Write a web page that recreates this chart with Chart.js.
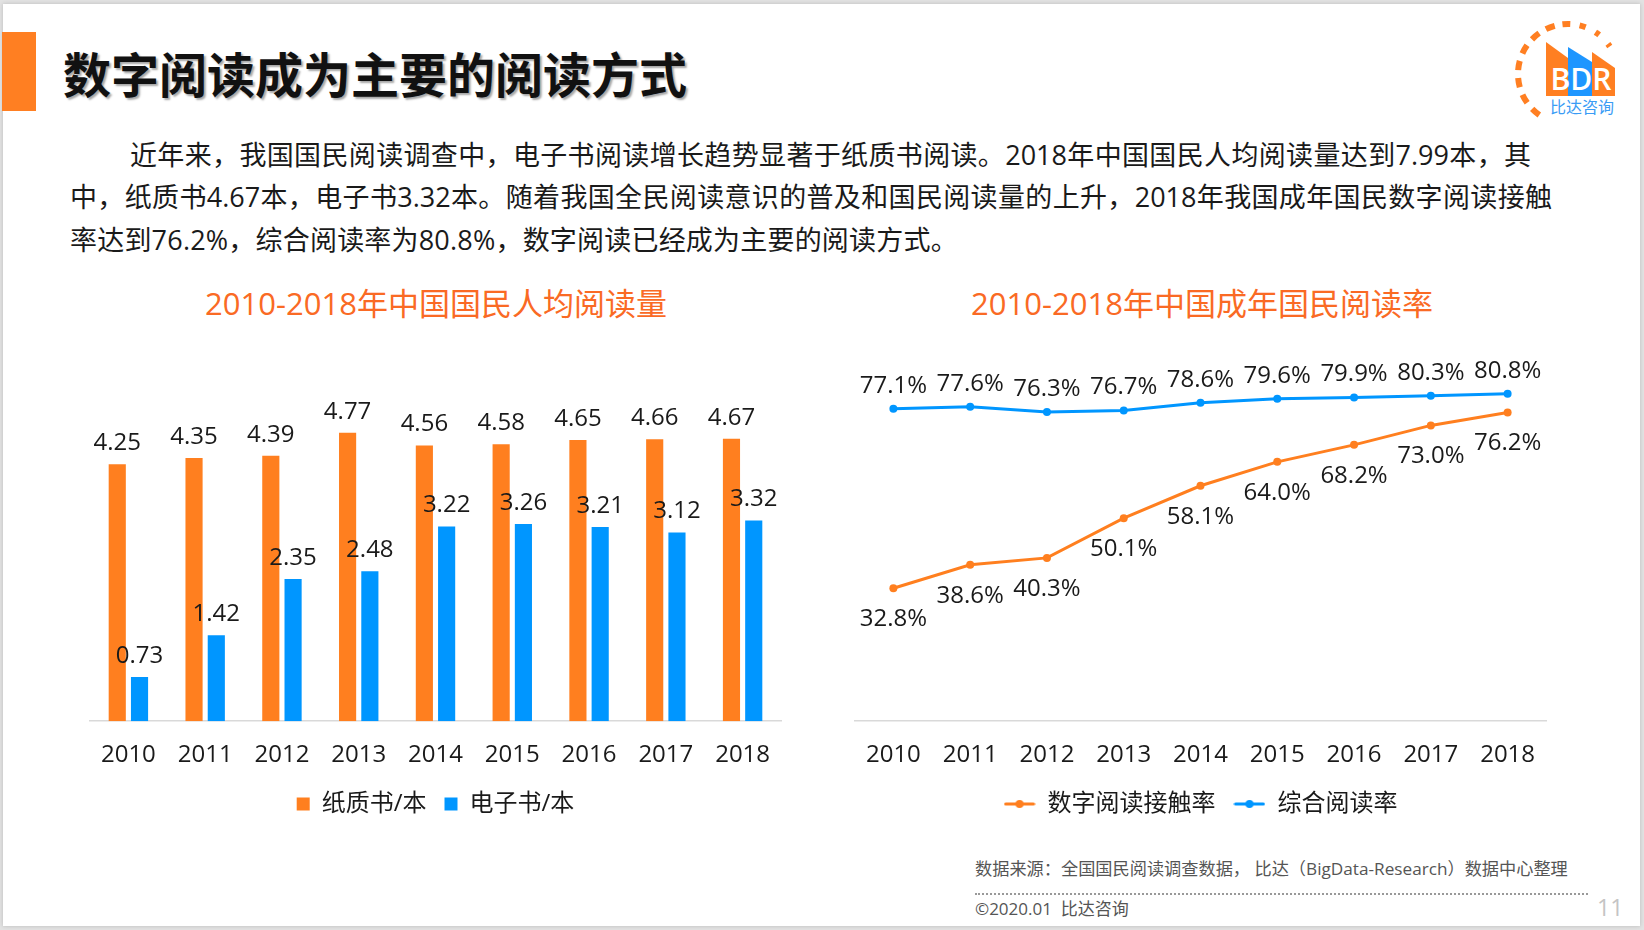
<!DOCTYPE html>
<html><head><meta charset="utf-8">
<script src="https://cdn.jsdelivr.net/npm/chart.js@4.4.0/dist/chart.umd.min.js"></script>
<style>
html,body{margin:0;padding:0;width:1644px;height:930px;overflow:hidden;background:#e2e2e2;font-family:"Open Sans","Noto Sans CJK SC",sans-serif;color:#1a1a1a;}
#slide{position:absolute;left:3px;top:4px;width:1637px;height:922px;background:#fff;box-shadow:0 0 4px rgba(0,0,0,0.18);}
.abs{position:absolute;white-space:nowrap;}
#bar{left:2px;top:32px;width:34px;height:79px;background:#FF7F22;}
#title{left:63px;top:45px;font-size:48px;line-height:60px;font-weight:700;color:#111;text-shadow:2px 2px 2px rgba(0,0,0,0.35);}
.para{font-size:27px;line-height:42px;color:#1a1a1a;}
.just{text-align:justify;text-align-last:justify;}
.ctitle{font-size:31px;line-height:40px;color:#FA6A24;text-align:center;}
#src{left:975px;top:858px;font-size:17.2px;line-height:22px;color:#555;}
#copy{left:975px;top:898px;font-size:17px;line-height:22px;color:#555;}
#dots{left:975px;top:893px;width:613px;height:0;border-top:2px dotted #999;}
#pg{left:1597px;top:893px;font-size:23px;line-height:28px;color:#c4c4c4;}
canvas{position:absolute;}
</style></head>
<body>
<div id="slide"></div>
<div id="bar" class="abs"></div>
<div id="title" class="abs">数字阅读成为主要的阅读方式</div>
<div class="abs para just" style="left:130px;top:134px;width:1401px;">近年来，我国国民阅读调查中，电子书阅读增长趋势显著于纸质书阅读。2018年中国国民人均阅读量达到7.99本，其</div>
<div class="abs para just" style="left:70px;top:176px;width:1482px;">中，纸质书4.67本，电子书3.32本。随着我国全民阅读意识的普及和国民阅读量的上升，2018年我国成年国民数字阅读接触</div>
<div class="abs para" style="left:70px;top:219px;letter-spacing:0.2px;">率达到76.2%，综合阅读率为80.8%，数字阅读已经成为主要的阅读方式。</div>
<div class="abs ctitle" style="left:186px;top:283px;width:500px;">2010-2018年中国国民人均阅读量</div>
<div class="abs ctitle" style="left:952px;top:283px;width:500px;">2010-2018年中国成年国民阅读率</div>

<svg class="abs" style="left:1510px;top:14px;" width="120" height="110" viewBox="0 0 120 110">
  <circle cx="58" cy="60" r="50" fill="none" stroke="#FF7F22" stroke-width="6" pathLength="200" transform="rotate(125 58 60)" stroke-dasharray="6 5 6 5 6 5 6 5 6 5 6 5 6 5 5 6 4 7 3 8 2 100"/>
  <polygon points="36,28 58,44 58,82 36,82" fill="#FF7F22"/>
  <polygon points="58,33 82,48 82,82 58,82" fill="#1E96FF"/>
  <polygon points="82,38 105,54 105,82 82,82" fill="#FF7F22"/>
  <text x="71" y="76" font-family="Open Sans, Liberation Sans, sans-serif" font-weight="600" font-size="30" fill="#fff" text-anchor="middle">BDR</text>
  <text x="72" y="99" font-family="Noto Sans CJK SC" font-size="16" fill="#3A9CF5" text-anchor="middle">比达咨询</text>
</svg>

<div id="src" class="abs">数据来源：全国国民阅读调查数据， 比达（BigData-Research）数据中心整理</div>
<div id="dots" class="abs"></div>
<div id="copy" class="abs">©2020.01&nbsp;&nbsp;比达咨询</div>
<div id="pg" class="abs">11</div>

<canvas id="c1" width="765" height="543" style="left:50px;top:300px;width:765px;height:543px;"></canvas>
<canvas id="c2" width="770" height="543" style="left:815px;top:300px;width:770px;height:543px;"></canvas>

<script>
// ---- data ----
const years = ['2010','2011','2012','2013','2014','2015','2016','2017','2018'];
const paperBooks = [4.25, 4.35, 4.39, 4.77, 4.56, 4.58, 4.65, 4.66, 4.67];
const eBooks = [0.73, 1.42, 2.35, 2.48, 3.22, 3.26, 3.21, 3.12, 3.32];
const digitalRate = [32.8, 38.6, 40.3, 50.1, 58.1, 64.0, 68.2, 73.0, 76.2];
const overallRate = [77.1, 77.6, 76.3, 76.7, 78.6, 79.6, 79.9, 80.3, 80.8];
const barNames = ['纸质书/本', '电子书/本'];
const lineNames = ['数字阅读接触率', '综合阅读率'];

const ORANGE = '#FF7F1F';
const BLUE = '#0096FF';
const FONT = '"Open Sans","Noto Sans CJK SC",sans-serif';

const valueLabels = {
  id: 'valueLabels',
  afterDatasetsDraw(chart) {
    const ctx = chart.ctx;
    chart.data.datasets.forEach((ds, i) => {
      const meta = chart.getDatasetMeta(i);
      ctx.save();
      ctx.font = '24px ' + FONT;
      ctx.fillStyle = '#1a1a1a';
      ctx.textAlign = 'center';
      ctx.textBaseline = 'middle';
      meta.data.forEach((el, j) => {
        ctx.fillText(ds.fmt(ds.data[j]), el.x, el.y + ds.labelDy);
      });
      ctx.restore();
    });
  }
};
// pull the legend a little closer to the axis labels
const legendShift = {
  id: 'legendShift',
  afterLayout(chart) {
    const l = chart.legend;
    if (l) { l.top -= 16; l.bottom -= 16; }
  }
};

function legendIcon(color) {
  const c = document.createElement('canvas');
  c.width = 32; c.height = 10;
  const g = c.getContext('2d');
  g.strokeStyle = color; g.lineWidth = 3; g.lineCap = 'round';
  g.beginPath(); g.moveTo(2, 5); g.lineTo(30, 5); g.stroke();
  g.fillStyle = color; g.beginPath(); g.arc(16, 5, 4, 0, Math.PI * 2); g.fill();
  return c;
}

const xAxis = {
  grid: { display: false, drawTicks: false },
  border: { display: true, color: '#d9d9d9', width: 1.5 },
  ticks: { color: '#1a1a1a', font: { size: 24, family: FONT }, padding: 20 }
};

new Chart(document.getElementById('c1'), {
  type: 'bar',
  data: {
    labels: years,
    datasets: [
      { label: barNames[0], data: paperBooks, backgroundColor: ORANGE, borderWidth: 0,
        categoryPercentage: 0.58, barPercentage: 0.77, labelDy: -21, fmt: v => v.toFixed(2) },
      { label: barNames[1], data: eBooks, backgroundColor: BLUE, borderWidth: 0,
        categoryPercentage: 0.58, barPercentage: 0.77, labelDy: -21, fmt: v => v.toFixed(2) }
    ]
  },
  options: {
    responsive: false, animation: false,
    layout: { padding: { left: 40, right: 34, top: 16, bottom: 1 } },
    scales: {
      x: xAxis,
      y: { display: false, min: 0, max: 6.7 }
    },
    plugins: {
      tooltip: { enabled: false },
      legend: {
        position: 'bottom',
        labels: { color: '#1a1a1a', font: { size: 24, family: FONT }, boxWidth: 13, boxHeight: 13, padding: 18 }
      }
    }
  },
  plugins: [valueLabels, legendShift]
});

const icons = [legendIcon(ORANGE), legendIcon(BLUE)];
new Chart(document.getElementById('c2'), {
  type: 'line',
  data: {
    labels: years,
    datasets: [
      { label: lineNames[0], data: digitalRate, borderColor: ORANGE, backgroundColor: ORANGE,
        borderWidth: 3, pointRadius: 4, pointBackgroundColor: ORANGE, pointBorderWidth: 0,
        tension: 0, labelDy: 31, fmt: v => v.toFixed(1) + '%' },
      { label: lineNames[1], data: overallRate, borderColor: BLUE, backgroundColor: BLUE,
        borderWidth: 3, pointRadius: 4, pointBackgroundColor: BLUE, pointBorderWidth: 0,
        tension: 0, labelDy: -23, fmt: v => v.toFixed(1) + '%' }
    ]
  },
  options: {
    responsive: false, animation: false,
    layout: { padding: { left: 40, right: 39, top: 16, bottom: 1 } },
    scales: {
      x: Object.assign({}, xAxis, { offset: true }),
      y: { display: false, min: 0, max: 100 }
    },
    plugins: {
      tooltip: { enabled: false },
      legend: {
        position: 'bottom',
        labels: {
          color: '#1a1a1a', font: { size: 24, family: FONT }, usePointStyle: true, pointStyleWidth: 32, padding: 18,
          generateLabels(chart) {
            const items = Chart.defaults.plugins.legend.labels.generateLabels(chart);
            items.forEach((it, i) => { it.pointStyle = icons[i]; });
            return items;
          }
        }
      }
    }
  },
  plugins: [valueLabels, legendShift]
});
</script>
</body></html>
